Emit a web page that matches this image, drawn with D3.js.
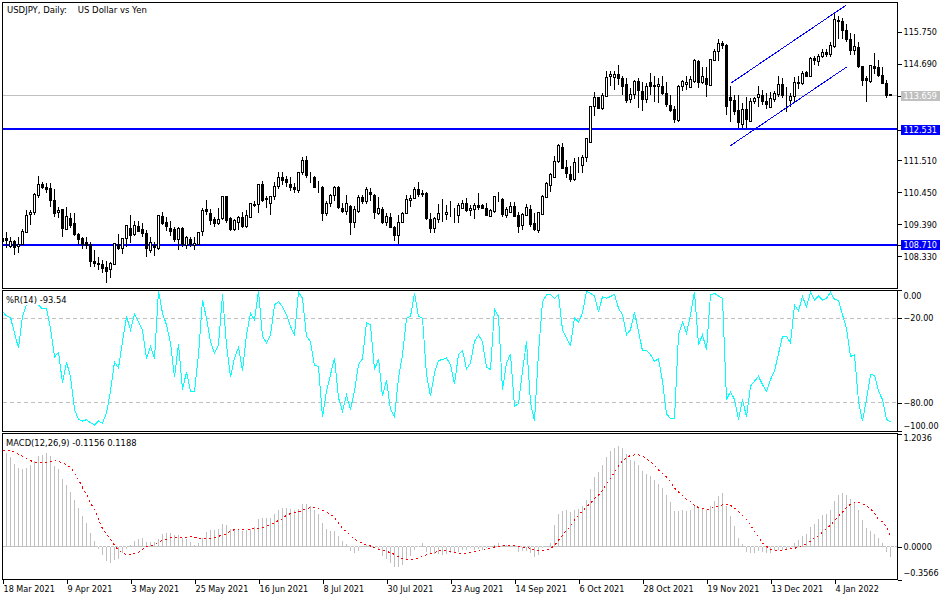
<!DOCTYPE html>
<html>
<head>
<meta charset="utf-8">
<script src="https://cdnjs.cloudflare.com/ajax/libs/d3/7.8.5/d3.min.js"></script>
<style>
html, body { margin: 0; padding: 0; background: #fff; }
svg { display: block; }
text { font-family: "DejaVu Sans", sans-serif; font-size: 8.1px; }
.tick text { font-family: "DejaVu Sans", sans-serif; font-size: 8.1px; }
text.label { font-size: 8.4px; }
</style>
</head>
<body>
<script>
const opens = [
108.93,108.93,108.66,108.82,108.63,108.71,109.15,109.71,109.79,110.34,
110.72,110.63,110.59,110.19,109.76,109.87,109.25,109.59,109.41,109.07,
108.94,108.80,108.71,108.15,108.10,108.08,107.98,107.90,108.08,108.71,
108.60,108.91,109.27,109.04,109.33,109.21,109.10,108.52,108.69,108.59,
109.66,109.47,109.27,109.21,108.88,109.24,108.71,108.90,108.71,108.74,
109.13,109.87,109.76,109.57,109.45,109.57,110.30,109.59,109.21,109.48,
109.63,109.32,109.62,110.03,110.06,110.72,110.22,110.09,110.31,110.64,
110.95,110.88,110.72,110.62,110.51,111.12,111.51,110.95,110.96,110.62,
110.62,109.76,110.09,110.35,110.62,109.92,109.81,109.99,109.45,109.81,
110.29,110.16,110.45,110.35,109.76,109.89,109.45,109.63,109.29,109.03,
109.45,109.76,110.18,110.26,110.55,110.40,110.40,109.54,109.25,109.56,
109.76,109.71,109.69,109.70,109.69,109.93,110.09,109.85,109.91,110.03,
110.02,109.92,109.65,109.81,110.26,110.22,109.70,109.80,110.00,109.70,
109.35,109.70,109.89,109.41,109.21,109.73,110.31,110.67,110.96,111.47,
111.94,111.26,111.05,110.89,111.43,111.36,111.60,112.10,113.29,113.58,
113.23,113.64,114.26,114.27,114.36,114.23,114.01,113.51,113.67,114.12,
113.80,113.51,114.09,113.96,113.93,113.97,113.73,113.33,113.20,112.82,
113.96,114.01,113.95,114.12,114.79,114.09,114.23,113.99,114.83,115.10,
115.39,115.32,113.61,113.51,113.15,112.71,113.18,112.82,113.46,113.60,
113.67,113.45,113.26,113.55,113.71,114.04,113.69,113.51,113.62,114.10,
114.07,114.41,114.29,114.87,114.78,114.95,115.10,115.03,115.27,116.13,
116.11,115.82,115.52,115.17,115.26,114.63,114.22,114.12,114.63,114.58,
114.32,114.07,113.68]
const highs = [
108.96,109.13,108.96,108.88,108.96,109.23,109.87,109.87,110.42,110.99,
110.81,110.75,110.75,110.55,109.98,109.89,109.96,109.76,109.76,109.10,
108.96,108.96,108.82,108.54,108.32,108.21,108.19,108.16,108.79,109.07,
108.93,109.37,109.70,109.52,109.51,109.43,109.21,108.99,108.82,109.71,
109.79,109.63,109.52,109.29,109.32,109.32,109.01,108.96,108.99,109.15,
109.92,110.20,109.89,109.65,109.92,110.33,110.33,109.63,109.56,109.67,
109.81,109.87,110.09,110.17,110.72,110.83,110.33,110.33,110.79,111.12,
111.12,110.99,110.97,110.77,111.12,111.63,111.65,111.12,110.99,110.84,
110.66,110.18,110.40,110.66,110.66,110.09,110.37,110.03,110.00,110.37,
110.37,110.62,110.59,110.40,110.29,109.96,109.76,109.76,109.34,109.70,
109.81,110.37,110.37,110.62,110.79,110.53,110.45,109.76,109.63,110.07,
110.22,110.03,110.17,109.92,110.09,110.20,110.26,110.03,110.09,110.42,
110.07,110.09,109.89,110.33,110.45,110.26,109.98,110.15,110.15,109.81,
109.76,110.07,110.03,109.76,109.81,110.37,110.81,111.11,111.66,112.05,
112.08,111.52,111.33,111.58,111.63,111.69,112.24,113.32,113.79,113.60,
113.73,114.46,114.46,114.46,114.68,114.29,114.23,113.90,114.17,114.23,
114.11,114.06,114.42,114.29,114.23,114.29,114.12,113.67,113.31,114.00,
114.17,114.31,114.29,114.87,114.83,114.59,114.59,114.87,115.20,115.52,
115.46,115.35,113.97,113.67,113.67,113.40,113.62,113.58,113.62,113.98,
113.84,113.75,113.79,113.82,114.29,114.23,113.93,113.73,114.27,114.31,
114.48,114.48,114.94,114.96,115.03,115.19,115.19,115.44,116.36,116.28,
116.24,116.04,115.72,115.68,115.44,114.64,114.29,114.66,115.08,114.83,
114.62,114.17,113.68]
const lows = [
108.79,108.60,108.60,108.38,108.46,108.71,109.12,109.37,109.70,110.28,
110.56,110.42,109.96,109.63,109.59,108.99,109.21,109.26,109.01,108.71,
108.58,108.58,107.99,107.99,107.88,107.79,107.46,107.61,108.05,108.54,
108.41,108.65,108.77,109.01,109.15,108.99,108.32,108.46,108.35,108.54,
109.37,109.18,109.01,108.81,108.54,108.65,108.57,108.65,108.54,108.71,
109.01,109.69,109.37,109.29,109.37,109.54,109.43,109.18,109.18,109.21,
109.28,109.28,109.62,109.96,109.78,110.15,109.95,109.70,110.20,110.55,
110.70,110.62,110.51,110.44,110.42,111.03,110.94,110.75,110.59,110.42,
109.52,109.68,109.96,110.18,109.89,109.76,109.70,109.04,109.28,109.76,
110.07,110.07,110.18,109.57,109.71,109.41,109.34,109.26,108.85,108.74,
109.43,109.74,109.98,110.22,110.31,110.29,109.54,109.12,109.12,109.43,
109.48,109.54,109.63,109.43,109.45,109.89,109.80,109.67,109.58,109.87,
109.89,109.67,109.63,109.78,110.15,109.65,109.60,109.76,109.65,109.12,
109.21,109.67,109.32,109.16,109.12,109.70,110.26,110.48,110.92,111.41,
111.24,110.92,110.81,110.84,111.08,111.08,111.47,112.10,112.99,113.20,
113.18,113.62,113.97,113.84,114.00,113.67,113.40,113.40,113.53,113.23,
113.15,113.40,113.67,113.45,113.40,113.67,113.27,113.13,112.75,112.77,
113.80,113.84,113.92,114.09,113.90,114.03,113.60,113.96,114.83,114.81,
115.21,113.02,112.79,113.02,112.58,112.58,112.58,112.79,113.38,113.27,
113.33,113.21,113.24,113.45,113.62,113.57,113.13,113.29,113.40,113.87,
114.00,114.27,114.27,114.66,114.63,114.91,114.94,114.92,115.24,115.52,
115.53,115.44,115.00,115.00,114.56,113.97,113.45,114.09,114.38,114.27,
114.03,113.59,113.65]
const closes = [
108.82,108.87,108.82,108.63,108.71,109.15,109.70,109.79,110.37,110.72,
110.61,110.58,110.18,109.76,109.84,109.25,109.67,109.37,109.04,108.92,
108.74,108.71,108.16,108.08,108.06,107.96,107.86,108.10,108.77,108.58,
108.93,109.34,109.04,109.34,109.17,109.07,108.59,108.80,108.62,109.69,
109.44,109.34,109.17,108.88,109.24,108.71,108.96,108.73,108.77,109.13,
109.84,109.80,109.54,109.44,109.57,110.30,109.52,109.21,109.52,109.63,
109.32,109.69,110.09,110.05,110.72,110.18,110.24,110.33,110.65,110.95,
110.86,110.77,110.61,110.54,111.12,111.51,111.01,110.96,110.62,110.63,
109.76,110.09,110.35,110.62,109.96,109.81,110.09,109.45,109.87,110.29,
110.15,110.55,110.38,109.78,109.92,109.45,109.66,109.29,109.03,109.46,
109.76,110.22,110.26,110.55,110.40,110.38,109.58,109.25,109.59,109.76,
109.77,109.79,109.70,109.71,110.03,110.09,109.85,109.92,110.03,109.98,
109.91,109.70,109.86,110.30,110.27,109.71,109.89,110.00,109.68,109.35,
109.72,109.96,109.38,109.21,109.79,110.33,110.76,111.03,111.48,111.99,
111.26,111.07,110.89,111.45,111.42,111.61,112.22,113.30,113.60,113.22,
113.67,114.26,114.34,114.36,114.23,113.97,113.49,113.69,114.11,113.81,
113.54,113.95,113.97,113.98,114.01,113.75,113.38,113.18,112.87,113.96,
114.12,114.09,114.20,114.83,114.09,114.29,114.02,114.85,115.13,115.38,
115.34,113.31,113.52,113.16,112.74,113.21,112.84,113.47,113.57,113.70,
113.46,113.36,113.57,113.74,114.03,113.67,113.70,113.63,114.10,114.06,
114.39,114.29,114.90,114.80,114.96,115.08,115.03,115.33,116.16,116.11,
115.82,115.52,115.17,115.29,114.62,114.15,114.15,114.64,114.58,114.33,
114.07,113.68,113.65]

const percentR = [
-15.3,-18.4,-19.5,-30.6,-41.2,-18.8,-10.6,-5.9,-3.5,-10.6,
-13.4,-13.4,-27.1,-47.5,-44.2,-65.9,-51.1,-61.2,-84.7,-91.8,
-92.9,-92.0,-94.1,-95.8,-92.9,-94.6,-87.1,-71.8,-51.1,-55.3,
-36.5,-18.8,-28.2,-17.2,-22.4,-28.2,-48.7,-40.0,-48.7,-0.7,
-16.5,-24.7,-37.6,-61.9,-38.4,-70.6,-58.1,-72.2,-71.8,-45.9,
-7.1,-20.0,-36.5,-44.7,-38.8,-3.1,-38.8,-61.9,-48.2,-40.7,
-57.2,-31.8,-16.5,-21.2,-0.7,-32.9,-37.6,-31.8,-10.6,-8.2,
-11.8,-17.6,-25.9,-31.8,-1.6,-5.9,-32.9,-36.5,-53.6,-54.1,
-90.1,-71.8,-60.0,-48.2,-76.5,-85.9,-74.6,-84.7,-71.8,-52.9,
-48.7,-23.1,-24.7,-56.5,-48.7,-75.3,-64.2,-84.7,-89.9,-62.4,
-45.9,-20.0,-18.8,-2.4,-18.8,-20.0,-60.0,-75.3,-58.8,-49.9,
-49.4,-48.2,-52.9,-66.6,-45.9,-42.8,-56.0,-51.8,-36.5,-31.8,
-36.9,-54.8,-56.5,-13.4,-18.8,-70.6,-51.8,-45.4,-82.4,-80.7,
-57.6,-36.5,-80.0,-92.9,-44.7,-8.2,-3.5,-3.1,-5.9,-3.1,
-28.2,-34.1,-39.3,-20.0,-22.8,-16.5,-0.7,-2.4,-4.0,-15.8,
-4.7,-5.9,-4.7,-3.1,-12.9,-17.6,-31.8,-28.2,-15.8,-29.4,
-43.1,-43.1,-45.9,-50.6,-48.7,-64.7,-87.8,-91.3,-91.3,-31.8,
-22.8,-30.6,-17.6,-1.2,-38.8,-31.8,-42.4,-3.5,-2.4,-4.2,
-5.9,-77.6,-72.2,-77.6,-91.8,-77.6,-90.1,-68.2,-64.7,-61.2,
-67.1,-71.8,-63.5,-57.6,-45.2,-32.9,-32.9,-37.6,-10.6,-14.8,
-4.7,-11.8,-1.6,-7.1,-4.2,-7.1,-5.9,-1.6,-6.6,-7.5,
-17.6,-27.1,-47.1,-45.9,-78.8,-92.9,-77.6,-60.0,-60.5,-71.8,
-77.6,-91.8,-93.54]

const macd = [
1.030,1.002,.959,.888,.841,.827,.841,.870,.916,.966,
.984,.998,.966,.863,.827,.720,.656,.585,.496,.414,
.324,.253,.146,.061,-.021,-.093,-.157,-.175,-.146,-.128,
-.068,-.029,.014,.057,.082,.093,.050,.046,.050,.086,
.132,.146,.146,.121,.121,.096,.086,.050,.021,.039,
.096,.153,.175,.182,.189,.239,.228,.185,.185,.182,
.168,.175,.193,.210,.296,.303,.307,.310,.346,.389,
.414,.417,.406,.389,.406,.453,.453,.431,.396,.346,
.253,.189,.164,.164,.111,.061,.032,-.046,-.068,-.046,
.004,.014,.014,-.004,-.039,-.103,-.128,-.175,-.217,-.217,
-.200,-.146,-.103,-.039,-.004,.043,-.057,-.082,-.082,-.082,
-.086,-.082,-.068,-.057,-.057,-.032,-.039,-.011,-.032,-.021,
-.032,-.011,.002,.021,.043,.014,.014,.004,.004,-.057,
-.046,-.046,-.068,-.111,-.093,-.011,.004,.043,.228,.346,
.378,.389,.371,.396,.406,.431,.496,.620,.745,.799,
.870,.959,1.020,1.059,1.073,1.059,.988,.930,.916,.870,
.806,.774,.752,.709,.674,.627,.549,.478,.378,.378,
.389,.378,.389,.442,.417,.399,.396,.431,.488,.542,
.574,.431,.324,.217,.093,.025,-.057,-.064,-.068,-.046,
-.057,-.064,-.068,-.039,-.032,-.032,-.032,-.011,.039,.068,
.111,.139,.210,.246,.296,.335,.353,.389,.488,.549,
.574,.549,.506,.478,.389,.289,.200,.168,.132,.093,
.039,-.057,-.1156]

const signal = [
1.023,1.023,1.023,1.012,.988,.966,.941,.920,.902,.895,
.895,.898,.906,.920,.909,.898,.877,.845,.788,.717,
.631,.560,.467,.396,.289,.193,.139,.075,.014,-.039,
-.064,-.086,-.086,-.071,-.064,-.029,-.004,.007,.025,.050,
.068,.078,.093,.096,.096,.096,.096,.103,.103,.086,
.082,.086,.086,.096,.111,.121,.139,.164,.182,.182,
.185,.185,.189,.193,.196,.203,.217,.235,.253,.282,
.299,.335,.353,.364,.371,.389,.406,.417,.417,.403,
.385,.371,.346,.307,.253,.193,.164,.121,.075,.061,
.032,.014,.007,-.014,-.029,-.039,-.046,-.068,-.082,-.111,
-.132,-.139,-.139,-.135,-.121,-.103,-.086,-.075,-.064,-.046,
-.039,-.039,-.050,-.068,-.068,-.071,-.071,-.064,-.050,-.039,
-.032,-.021,-.014,-.004,.004,.007,.011,.014,.014,0,
-.004,-.004,-.021,-.032,-.039,-.043,-.039,-.025,.014,.068,
.121,.175,.217,.282,.335,.381,.424,.467,.513,.549,
.602,.674,.727,.799,.859,.916,.952,.973,.980,.980,
.966,.941,.906,.870,.816,.781,.745,.692,.627,.585,
.549,.503,.485,.442,.417,.406,.392,.403,.424,.428,
.449,.449,.442,.414,.378,.335,.289,.228,.164,.103,
.039,.004,-.032,-.043,-.043,-.043,-.032,-.025,-.018,-.004,
.014,.032,.057,.096,.118,.157,.193,.228,.282,.324,
.371,.417,.453,.467,.474,.460,.438,.406,.353,.289,
.264,.210,.1188]

const dateLabels = ['18 Mar 2021','9 Apr 2021','3 May 2021','25 May 2021','16 Jun 2021','8 Jul 2021','30 Jul 2021','23 Aug 2021','14 Sep 2021','6 Oct 2021','28 Oct 2021','19 Nov 2021','13 Dec 2021','4 Jan 2022']
const priceTicks = [115.75, 114.69, 113.659, 112.531, 111.51, 110.45, 109.39, 108.71, 108.33]
const blueLevels = [112.531, 108.71]
const lastPrice = 113.659
const rTicks = [0, -20, -80, -100]
const rLevels = [-20, -80]
const macdTicks = [1.2036, 0, -0.3566]
const channelBars = [182, 211]
const channelUpper = [114.06, 116.66]
const channelLower = [112.0, 114.6]

const left = 2.5, right = 897.5
const top1 = 2.5, bot1 = 288.5, top2 = 290.5, bot2 = 431.5, top3 = 433.5, bot3 = 579.5

const svg = d3.select('body').append('svg').attr('width', 950).attr('height', 600)

const x = d3.scaleLinear().domain([0, 222]).range([2.5, 890.5])
const yPrice = d3.scaleLinear().domain([107.286, 116.756]).range([288, 2])
const yR = d3.scaleLinear().domain([-100, 0]).range([431, 290])
const yMacd = d3.scaleLinear().domain([-0.3566, 1.2036]).range([580, 434])

const snap = v => Math.floor(v) + 0.5

const defs = svg.append('defs')
const addClip = (id, y0, y1) => defs.append('clipPath').attr('id', id).append('rect')
    .attr('x', left).attr('y', y0).attr('width', right - left).attr('height', y1 - y0)
addClip('clip1', top1, bot1)
addClip('clip2', top2, bot2)
addClip('clip3', top3, bot3)

// price panel
const main = svg.append('g').attr('clip-path', 'url(#clip1)').attr('shape-rendering', 'crispEdges')

main.append('line')
    .attr('x1', left).attr('x2', right)
    .attr('y1', snap(yPrice(lastPrice))).attr('y2', snap(yPrice(lastPrice)))
    .attr('stroke', '#c0c0c0')

main.selectAll('.level').data(blueLevels).enter().append('line')
    .attr('class', 'level')
    .attr('x1', left).attr('x2', right)
    .attr('y1', d => Math.floor(yPrice(d) + 0.1)).attr('y2', d => Math.floor(yPrice(d) + 0.1))
    .attr('stroke', '#0000ff').attr('stroke-width', 2)

const candle = main.selectAll('.candle').data(opens).enter().append('g').attr('class', 'candle')

candle.append('line')
    .attr('x1', (d, i) => x(i)).attr('x2', (d, i) => x(i))
    .attr('y1', (d, i) => yPrice(highs[i])).attr('y2', (d, i) => yPrice(lows[i]))
    .attr('stroke', '#000')

candle.append('rect')
    .attr('x', (d, i) => x(i) - 1)
    .attr('width', 2)
    .attr('y', (d, i) => snap(yPrice(Math.max(d, closes[i]))))
    .attr('height', (d, i) => Math.max(0, Math.round(Math.abs(yPrice(d) - yPrice(closes[i])))))
    .attr('fill', (d, i) => closes[i] >= d ? '#fff' : '#000')
    .attr('stroke', '#000')

// channel
const channel = main.append('g')
;[channelUpper, channelLower].forEach(vals => {
    channel.append('line')
        .attr('x1', x(channelBars[0])).attr('x2', x(channelBars[1]))
        .attr('y1', yPrice(vals[0])).attr('y2', yPrice(vals[1]))
        .attr('stroke', '#0000ff')
})

svg.append('text').attr('class', 'label').attr('x', 7).attr('y', 13)
    .style('font-size', '8.5px')
    .text('USDJPY, Daily:\u00a0\u00a0\u00a0\u00a0US Dollar vs Yen')

// %R panel
const rPanel = svg.append('g').attr('clip-path', 'url(#clip2)').attr('shape-rendering', 'crispEdges')

rPanel.selectAll('.rlevel').data(rLevels).enter().append('line')
    .attr('class', 'rlevel')
    .attr('x1', left).attr('x2', right)
    .attr('y1', d => snap(yR(d))).attr('y2', d => snap(yR(d)))
    .attr('stroke', '#c0c0c0').attr('stroke-dasharray', '4,3')

rPanel.append('path')
    .datum(percentR)
    .attr('d', d3.line().x((d, i) => x(i)).y(d => yR(d)))
    .attr('fill', 'none').attr('stroke', '#00ffff')

svg.append('rect').attr('x', 3).attr('y', 291).attr('width', 66).attr('height', 14).attr('fill', '#fff')
svg.append('text').attr('class', 'label').attr('x', 6).attr('y', 303).text('%R(14) -93.54')

// MACD panel
const macdPanel = svg.append('g').attr('clip-path', 'url(#clip3)').attr('shape-rendering', 'crispEdges')

macdPanel.append('line')
    .attr('x1', left).attr('x2', right)
    .attr('y1', snap(yMacd(0))).attr('y2', snap(yMacd(0)))
    .attr('stroke', '#c0c0c0').attr('stroke-dasharray', '3,1')

macdPanel.selectAll('.bar').data(macd).enter().append('line')
    .attr('class', 'bar')
    .attr('x1', (d, i) => x(i)).attr('x2', (d, i) => x(i))
    .attr('y1', snap(yMacd(0))).attr('y2', d => yMacd(d))
    .attr('stroke', '#c0c0c0')

macdPanel.append('path')
    .datum(signal)
    .attr('d', d3.line().x((d, i) => x(i)).y(d => yMacd(d)))
    .attr('fill', 'none').attr('stroke', '#ff0000').attr('stroke-dasharray', '2,3')

svg.append('text').attr('class', 'label').attr('x', 6).attr('y', 446).text('MACD(12,26,9) -0.1156 0.1188')

// frames
;[[top1, bot1], [top2, bot2], [top3, bot3]].forEach(p => {
    svg.append('rect')
        .attr('x', left).attr('y', p[0]).attr('width', right - left).attr('height', p[1] - p[0])
        .attr('fill', 'none').attr('stroke', '#000').attr('shape-rendering', 'crispEdges')
})

// axes
const styleAxis = g => {
    g.select('.domain').remove()
    g.selectAll('.tick line').attr('shape-rendering', 'crispEdges').attr('stroke', '#000')
    g.selectAll('.tick text').attr('fill', '#000')
}

const priceAxis = svg.append('g').attr('transform', `translate(${right},0)`)
    .call(d3.axisRight(yPrice).tickValues(priceTicks).tickFormat(d3.format('.3f')).tickSize(4).tickPadding(2))
    .call(styleAxis)

priceAxis.selectAll('.tick').each(function (d) {
    const t = d3.select(this)
    if (d !== lastPrice && !blueLevels.includes(d)) return
    t.insert('rect', 'text')
        .attr('x', 3).attr('y', -5.5).attr('width', 39).attr('height', 10.5)
        .attr('shape-rendering', 'crispEdges')
        .attr('fill', d === lastPrice ? '#c0c0c0' : '#0000ff')
    t.select('text').attr('fill', '#fff')
})

svg.append('g').attr('transform', `translate(${right},0)`)
    .call(d3.axisRight(yR).tickValues(rTicks).tickFormat(d3.format('.2f')).tickSize(4).tickPadding(2))
    .call(styleAxis)
    .call(g => g.selectAll('.tick text').attr('dy', d => d === 0 ? '1.07em' : d === -100 ? '-0.3em' : '0.32em'))

svg.append('g').attr('transform', `translate(${right},0)`)
    .call(d3.axisRight(yMacd).tickValues(macdTicks).tickFormat(d3.format('.4f')).tickSize(4).tickPadding(2))
    .call(styleAxis)
    .call(g => g.selectAll('.tick text').attr('dy', d => d > 1 ? '0.82em' : d < 0 ? '-0.5em' : '0.32em'))

svg.append('g').attr('transform', `translate(0,${bot3})`)
    .call(d3.axisBottom(x).tickValues(dateLabels.map((d, i) => i * 16)).tickFormat((d, i) => dateLabels[i]).tickSize(4).tickPadding(3))
    .call(styleAxis)
    .call(g => g.selectAll('.tick text').attr('text-anchor', 'start').attr('dx', 0.5))
</script>
</body>
</html>
